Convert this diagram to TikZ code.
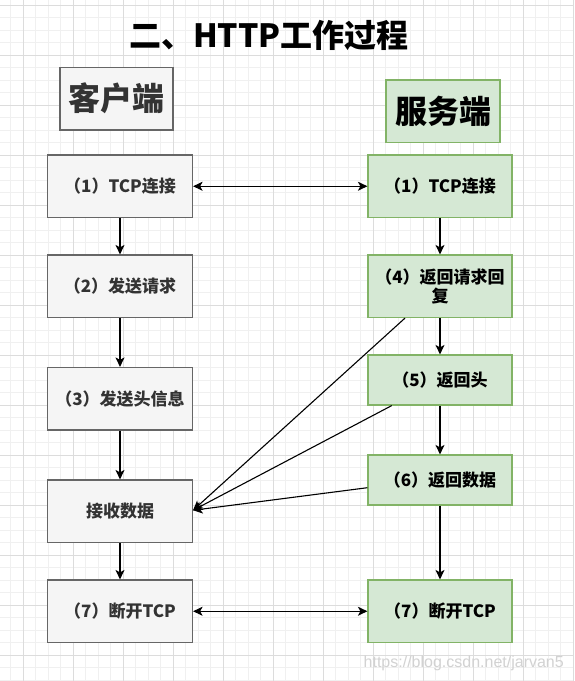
\documentclass[tikz,border=0pt]{standalone}
\usepackage{fontspec}
\setmainfont{Noto Sans CJK SC}
\newfontfamily\wmfont{Liberation Sans}
\usetikzlibrary{arrows.meta}
\definecolor{gridmajor}{HTML}{DCDCDC}
\definecolor{gridminor}{HTML}{F0F0F0}
\definecolor{cfill}{HTML}{F5F5F5}
\definecolor{cline}{HTML}{666666}
\definecolor{ctext}{HTML}{333333}
\definecolor{sfill}{HTML}{D5E8D4}
\definecolor{sline}{HTML}{82B366}
\definecolor{wmark}{HTML}{D2D2D2}
\begin{document}
\begin{tikzpicture}[x=1pt,y=-1pt,
  cbox/.style={draw=cline, fill=cfill, text=ctext, line width=1.2pt,
    minimum width=145pt, minimum height=62.5pt,
    font=\fontsize{17pt}{19pt}\selectfont\bfseries, align=center, inner sep=0pt},
  sbox/.style={cbox, draw=sline, fill=sfill, text=black, minimum width=144pt},
  hbox/.style={font=\fontsize{32pt}{38pt}\selectfont\bfseries, inner sep=0pt, minimum height=62.5pt, line width=1.2pt},
  conn/.style={line width=1.1pt, -{Stealth[length=9.5pt,width=9pt,inset=2.5pt]}},
  biconn/.style={line width=1.1pt, {Stealth[length=9.5pt,width=9pt,inset=2.5pt]}-{Stealth[length=9.5pt,width=9pt,inset=2.5pt]}},
  minorline/.style={draw=gridminor, line width=0.8pt},
  majorline/.style={draw=gridmajor, line width=0.9pt}
]
\useasboundingbox (0,0) rectangle (574,681);
\fill[white] (0,0) rectangle (574,681);
% grid
\foreach \i in {0,...,45} \draw[minorline] ({10.83+12.5*\i},0) -- ({10.83+12.5*\i},681);
\foreach \i in {0,...,54} \draw[minorline] (0,{5+12.5*\i}) -- (574,{5+12.5*\i});
\foreach \i in {0,...,11} \draw[majorline] ({23.33+50*\i},0) -- ({23.33+50*\i},681);
\foreach \i in {0,...,13} \draw[majorline] (0,{5+50*\i}) -- (574,{5+50*\i});

% title
\node[font=\fontsize{32pt}{38pt}\selectfont\bfseries, inner sep=0pt] (title) at (269,35) {二、HTTP工作过程};

% headers
\node[hbox, draw=cline, fill=cfill, text=ctext, minimum width=113pt] (client) at (116.5,98.75) {客户端};
\node[hbox, draw=sline, fill=sfill, text=black, minimum width=114pt] (server) at (443,111.25) {服务端};

% client column
\node[cbox] (L1) at (120,186.25) {（1）TCP连接};
\node[cbox] (L2) at (120,286.25) {（2）发送请求};
\node[cbox] (L3) at (120,398.75) {（3）发送头信息};
\node[cbox] (L4) at (120,511.25) {接收数据};
\node[cbox] (L5) at (120,611.25) {（7）断开TCP};

% server column
\node[sbox] (R1) at (440,186.25) {（1）TCP连接};
\node[sbox] (R4) at (440,286.25) {（4）返回请求回\\复};
\node[sbox, minimum height=50pt] (R5) at (440,380) {（5）返回头};
\node[sbox, minimum height=50pt] (R6) at (440,480) {（6）返回数据};
\node[sbox] (R7) at (440,611.25) {（7）断开TCP};

% vertical arrows
\draw[conn] (L1) -- (L2);
\draw[conn] (L2) -- (L3);
\draw[conn] (L3) -- (L4);
\draw[conn] (L4) -- (L5);
\draw[conn] (R1) -- (R4);
\draw[conn] (R4) -- (R5);
\draw[conn] (R5) -- (R6);
\draw[conn] (R6) -- (R7);

% horizontal double arrows
\draw[biconn] (L1.east) -- (R1.west);
\draw[biconn] (L5.east) -- (R7.west);

% diagonal arrows
\draw[conn] ([xshift=-35pt]R4.south) -- ([yshift=1pt]L4.east);
\draw[conn] ([xshift=-48.3pt]R5.south) -- ([yshift=1pt]L4.east);
\draw[conn] ([yshift=-7.7pt]R6.west) -- ([yshift=1pt]L4.east);

% watermark
\node[anchor=east, inner sep=0pt, text=wmark, font=\wmfont\fontsize{16pt}{19pt}\selectfont] (wm) at (564,663) {https://blog.csdn.net/jarvan5};
\end{tikzpicture}
\end{document}
